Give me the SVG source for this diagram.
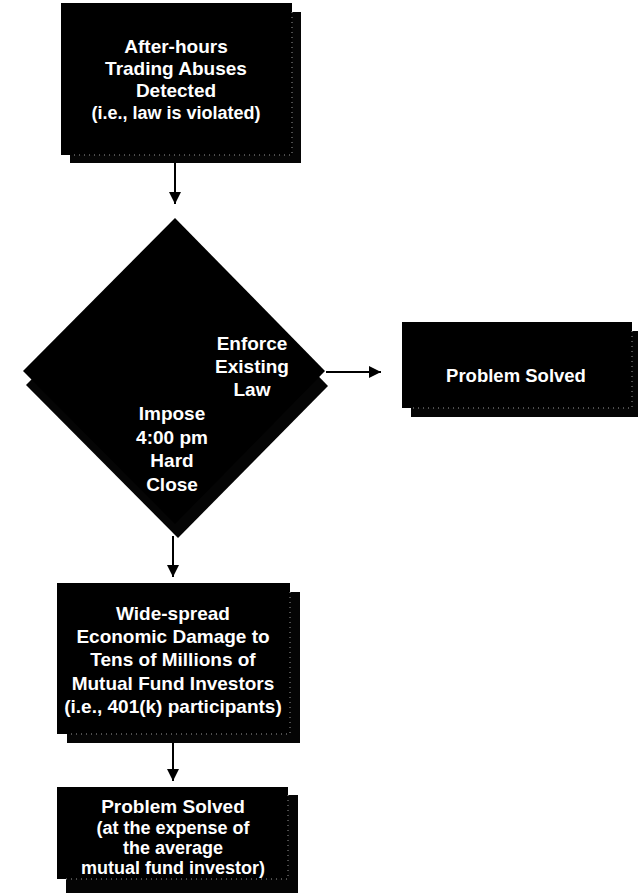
<svg xmlns="http://www.w3.org/2000/svg" width="639" height="893" viewBox="0 0 639 893">
  <style>
    .shadow { fill: #050505; }
    .box { fill: #000000; }
    .seam { fill: none; stroke: #9a9a9a; stroke-width: 1; stroke-dasharray: 1 4; }
    .t { font-family: "Liberation Sans", Arial, sans-serif; font-weight: bold; font-size: 19px; fill: #ffffff; text-anchor: middle; }
    .conn { stroke: #000000; stroke-width: 2; fill: none; marker-end: url(#arrow); }
  </style>
  <defs>
    <marker id="arrow" markerUnits="userSpaceOnUse" markerWidth="12" markerHeight="12" refX="12" refY="6" orient="auto">
      <path d="M0,0 L12,6 L0,12 Z" fill="#000000"/>
    </marker>
  </defs>
  <rect width="639" height="893" fill="#ffffff"/>

  <g id="connectors">
    <line class="conn" x1="175" y1="163" x2="175" y2="204"/>
    <line class="conn" x1="326" y1="372" x2="381" y2="372"/>
    <line class="conn" x1="173" y1="536" x2="173" y2="577"/>
    <line class="conn" x1="173" y1="743" x2="173" y2="781"/>
  </g>

  <g id="node-detected">
    <rect class="shadow" x="70" y="12" width="231" height="151"/>
    <rect class="box" x="61" y="3" width="231" height="152"/>
    <path class="seam" d="M292,12 V155 H70"/>
    <text class="t" x="176" y="53">After-hours</text>
    <text class="t" x="176" y="75">Trading Abuses</text>
    <text class="t" x="176" y="97">Detected</text>
    <text class="t" x="176" y="119" style="font-size:18px">(i.e., law is violated)</text>
  </g>

  <g id="node-decision">
    <polygon class="shadow" points="178,232 328,386 178,538 26,385"/>
    <polygon class="box" points="175,218 325,371 175,524 23,371"/>
    <text class="t" x="252" y="350">Enforce</text>
    <text class="t" x="252" y="373">Existing</text>
    <text class="t" x="252" y="396">Law</text>
    <text class="t" x="172" y="420">Impose</text>
    <text class="t" x="172" y="444">4:00 pm</text>
    <text class="t" x="172" y="467">Hard</text>
    <text class="t" x="172" y="491">Close</text>
  </g>

  <g id="node-solved-right">
    <rect class="shadow" x="411" y="331" width="227" height="86"/>
    <rect class="box" x="402" y="322" width="230" height="86"/>
    <path class="seam" d="M632,331 V408 H411"/>
    <text class="t" x="516" y="382" style="font-size:18.5px">Problem Solved</text>
  </g>

  <g id="node-damage">
    <rect class="shadow" x="67" y="592" width="233" height="151"/>
    <rect class="box" x="57" y="583" width="233" height="151"/>
    <path class="seam" d="M290,592 V734 H67"/>
    <text class="t" x="173" y="620">Wide-spread</text>
    <text class="t" x="173" y="643">Economic Damage to</text>
    <text class="t" x="173" y="666">Tens of Millions of</text>
    <text class="t" x="173" y="690">Mutual Fund Investors</text>
    <text class="t" x="173" y="713">(i.e., 401(k) participants)</text>
  </g>

  <g id="node-solved-bottom">
    <rect class="shadow" x="66" y="795" width="232" height="98"/>
    <rect class="box" x="57" y="787" width="231" height="92"/>
    <path class="seam" d="M288,795 V879 H66"/>
    <text class="t" x="173" y="813">Problem Solved</text>
    <text class="t" x="173" y="834" style="font-size:18px">(at the expense of</text>
    <text class="t" x="173" y="854" style="font-size:18px">the average</text>
    <text class="t" x="173" y="874" style="font-size:18px">mutual fund investor)</text>
  </g>
</svg>
